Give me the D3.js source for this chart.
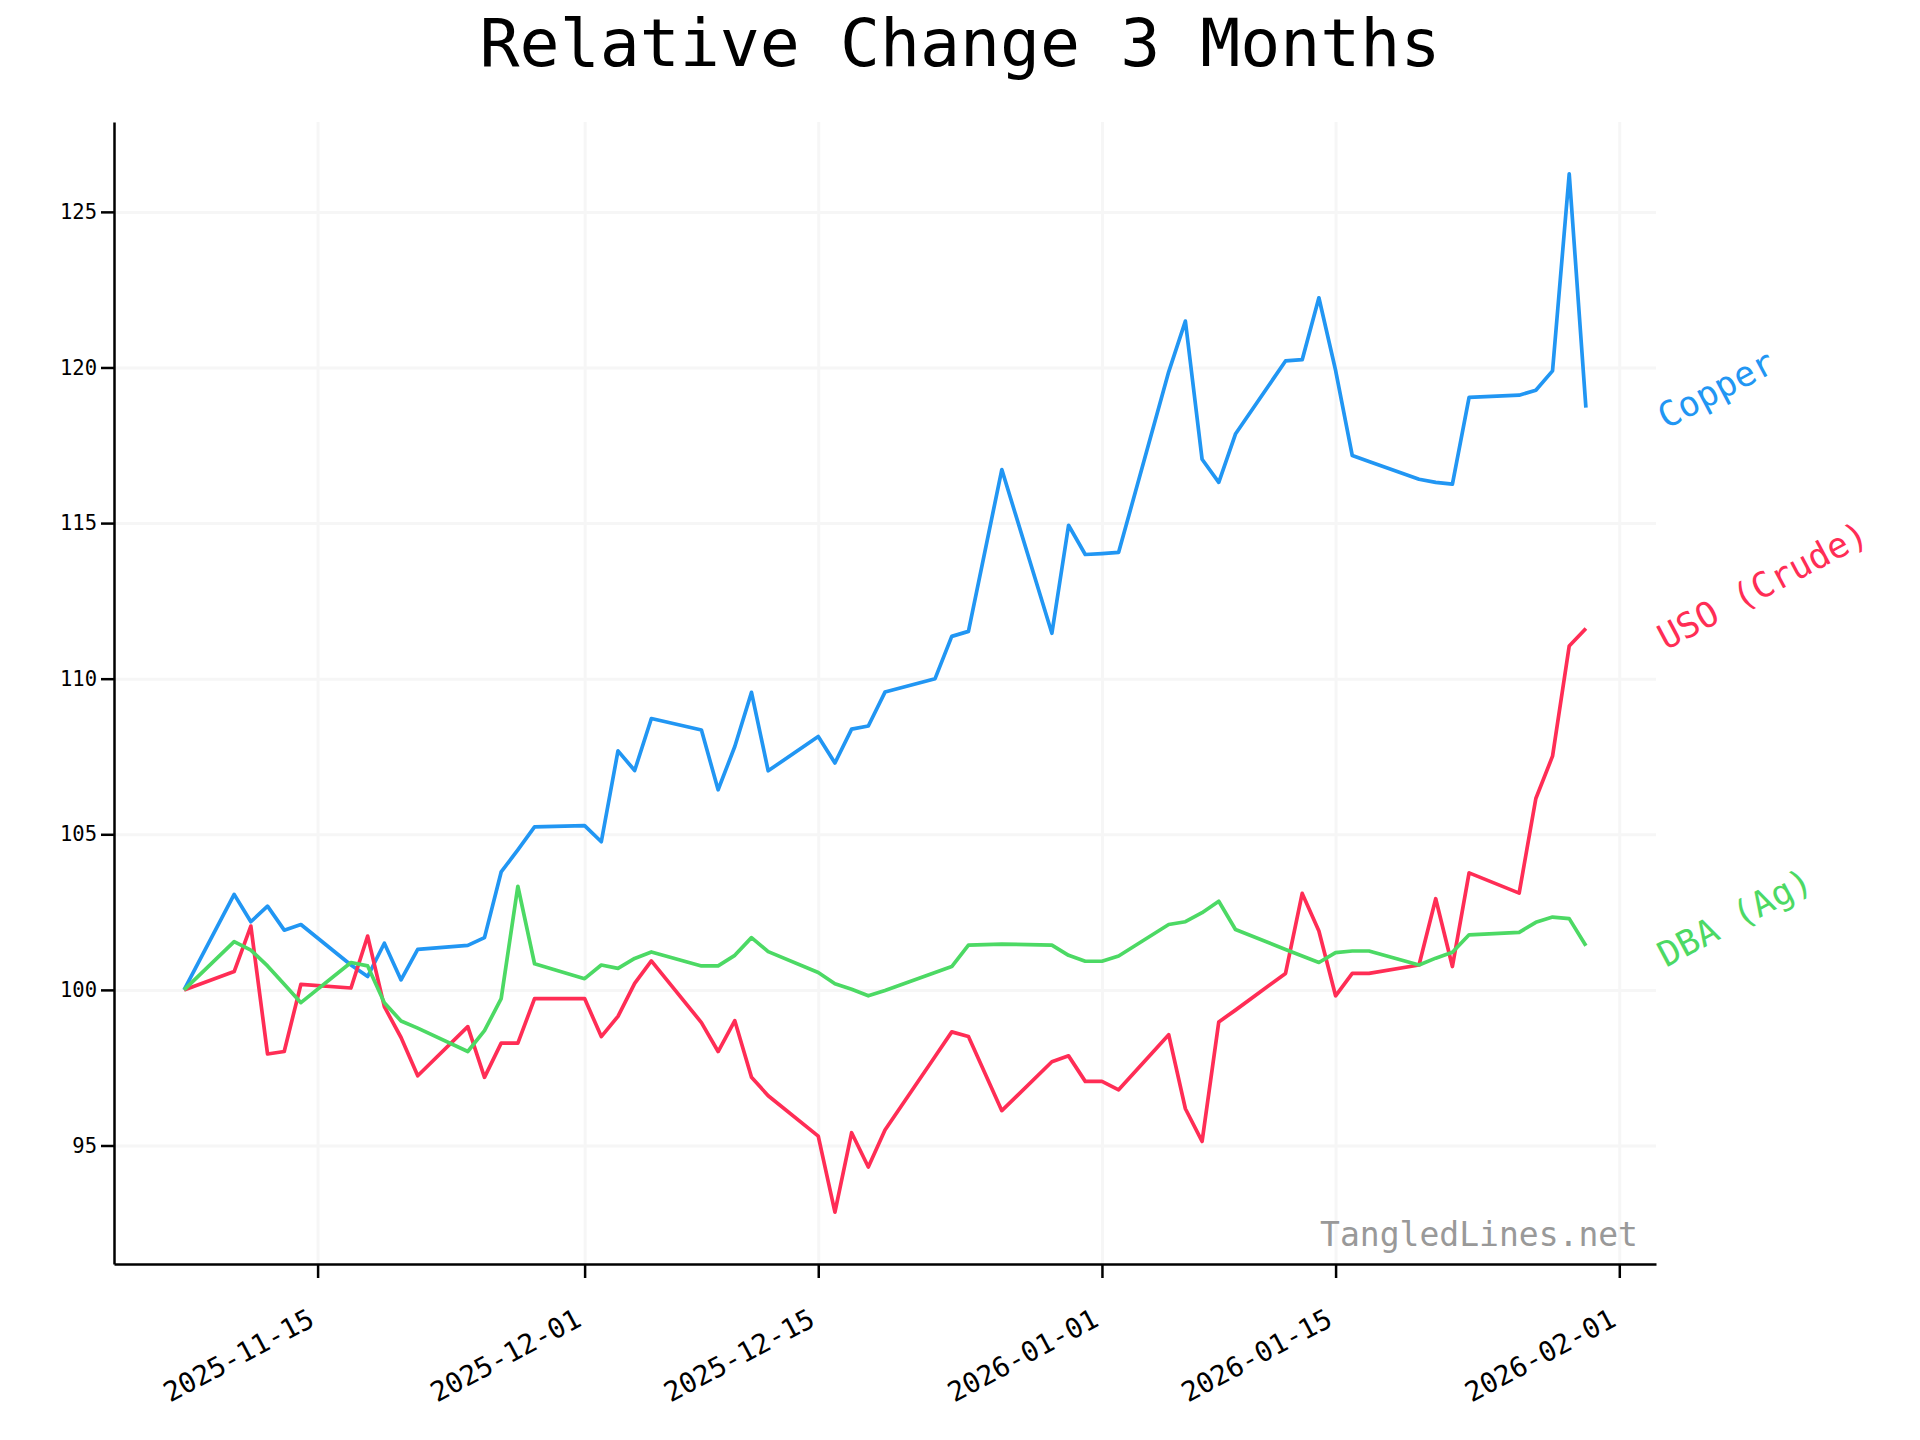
<!DOCTYPE html>
<html>
<head>
<meta charset="utf-8">
<script src="https://cdn.jsdelivr.net/npm/d3@7"></script>
<style>
  html, body { margin: 0; padding: 0; background: #ffffff; }
  svg { display: block; }
  text { font-family: "DejaVu Sans Mono", monospace; }
</style>
</head>
<body>
<svg id="chart" width="1920" height="1440"></svg>
<script>
// ---------- data ----------
const dates = [
  "2025-11-07","2025-11-10","2025-11-11","2025-11-12","2025-11-13","2025-11-14",
  "2025-11-17","2025-11-18","2025-11-19","2025-11-20","2025-11-21",
  "2025-11-24","2025-11-25","2025-11-26","2025-11-27","2025-11-28",
  "2025-12-01","2025-12-02","2025-12-03","2025-12-04","2025-12-05",
  "2025-12-08","2025-12-09","2025-12-10","2025-12-11","2025-12-12",
  "2025-12-15","2025-12-16","2025-12-17","2025-12-18","2025-12-19",
  "2025-12-22","2025-12-23","2025-12-24","2025-12-26",
  "2025-12-29","2025-12-30","2025-12-31","2026-01-01","2026-01-02",
  "2026-01-05","2026-01-06","2026-01-07","2026-01-08","2026-01-09",
  "2026-01-12","2026-01-13","2026-01-14","2026-01-15","2026-01-16","2026-01-17",
  "2026-01-20","2026-01-21","2026-01-22","2026-01-23",
  "2026-01-26","2026-01-27","2026-01-28","2026-01-29","2026-01-30"
];

const copper = [
  100.00,103.07,102.19,102.69,101.92,102.10,
  100.80,100.43,101.50,100.32,101.30,
  101.43,101.68,103.79,104.50,105.24,
  105.28,104.76,107.68,107.05,108.72,
  108.35,106.43,107.82,109.56,107.04,
  108.14,107.29,108.38,108.48,109.57,
  110.00,111.36,111.52,116.72,
  111.46,114.93,113.99,114.02,114.06,
  119.86,121.49,117.05,116.31,117.86,
  120.21,120.25,122.24,119.91,117.17,116.98,
  116.41,116.31,116.25,119.04,
  119.11,119.27,119.89,126.22,118.71
];

const uso = [
  100.00,100.59,102.05,97.94,98.02,100.18,
  100.06,101.73,99.46,98.47,97.24,
  98.82,97.19,98.29,98.29,99.72,
  99.72,98.50,99.15,100.21,100.93,
  98.95,98.02,99.01,97.19,96.60,
  95.30,92.86,95.41,94.31,95.50,
  97.86,98.65,98.50,96.12,
  97.69,97.88,97.06,97.06,96.79,
  98.56,96.18,95.13,98.97,99.35,
  100.53,103.10,101.89,99.81,100.53,100.53,
  100.80,102.93,100.75,103.76,
  103.11,106.15,107.51,111.05,111.61
];

const dba = [
  100.00,101.55,101.28,100.77,100.18,99.59,
  100.88,100.77,99.59,99.00,98.77,
  98.02,98.69,99.72,103.33,100.84,
  100.36,100.80,100.69,101.01,101.22,
  100.77,100.77,101.11,101.68,101.23,
  100.56,100.20,100.02,99.81,99.98,
  100.56,100.75,101.44,101.47,
  101.44,101.11,100.92,100.92,101.09,
  102.10,102.19,102.48,102.85,101.94,
  101.30,101.09,100.88,101.20,101.25,101.25,
  100.80,101.02,101.21,101.77,
  101.85,102.17,102.34,102.29,101.42
];

const seriesNames = ["Copper", "USO (Crude)", "DBA (Ag)"];
const seriesColors = ["#2196F3", "#FF2D55", "#4CD964"];
const yTicks = [95, 100, 105, 110, 115, 120, 125];
const xTicks = ["2025-11-15", "2025-12-01", "2025-12-15", "2026-01-01", "2026-01-15", "2026-02-01"];
const titleText = "Relative Change 3 Months";
const watermark = "TangledLines.net";

// ---------- layout ----------
const W = 1920, H = 1440;
const M = { left: 114, right: 1656, top: 122, bottom: 1264 };

const parse = d3.utcParse("%Y-%m-%d");
const fmt = d3.utcFormat("%Y-%m-%d");
const dateObjs = dates.map(parse);
const allSeries = [copper, uso, dba];

const dMin = d3.min(dateObjs), dMax = d3.max(dateObjs);
const span = dMax - dMin;
const x = d3.scaleUtc()
  .domain([new Date(+dMin - span * 0.05), new Date(+dMax + span * 0.05)])
  .range([M.left, M.right]);

const vMin = d3.min(allSeries, s => d3.min(s));
const vMax = d3.max(allSeries, s => d3.max(s));
const vSpan = vMax - vMin;
const y = d3.scaleLinear()
  .domain([vMin - vSpan * 0.05, vMax + vSpan * 0.05])
  .range([M.bottom, M.top]);

const svg = d3.select("#chart");
svg.append("rect").attr("width", W).attr("height", H).attr("fill", "#ffffff");

// grid
const gridColor = "#f6f6f6";
svg.append("g")
  .attr("transform", `translate(0,${M.bottom})`)
  .call(d3.axisBottom(x).tickValues(xTicks.map(parse)).tickSize(-(M.bottom - M.top)).tickFormat(""))
  .call(g => g.select(".domain").remove())
  .call(g => g.selectAll("line").attr("stroke", gridColor).attr("stroke-width", 3));
svg.append("g")
  .attr("transform", `translate(${M.left},0)`)
  .call(d3.axisLeft(y).tickValues(yTicks).tickSize(-(M.right - M.left)).tickFormat(""))
  .call(g => g.select(".domain").remove())
  .call(g => g.selectAll("line").attr("stroke", gridColor).attr("stroke-width", 3));

// lines
const line = d3.line()
  .x((d, i) => x(dateObjs[i]))
  .y(d => y(d));

allSeries.forEach((s, k) => {
  svg.append("path")
    .datum(s)
    .attr("fill", "none")
    .attr("stroke", seriesColors[k])
    .attr("stroke-width", 3.7)
    .attr("stroke-linejoin", "round")
    .attr("stroke-linecap", "butt")
    .attr("d", line);
});

// axes
const yAxis = svg.append("g")
  .attr("transform", `translate(${M.left},0)`)
  .call(d3.axisLeft(y).tickValues(yTicks).tickSize(13).tickPadding(4).tickSizeOuter(0));
yAxis.select(".domain").attr("stroke", "#000").attr("stroke-width", 2.5);
yAxis.selectAll(".tick line").attr("stroke", "#000").attr("stroke-width", 2.5);
yAxis.selectAll(".tick text")
  .attr("font-family", "DejaVu Sans Mono")
  .attr("font-size", 20.5)
  .attr("fill", "#000");

const xAxis = svg.append("g")
  .attr("transform", `translate(0,${M.bottom})`)
  .call(d3.axisBottom(x).tickValues(xTicks.map(parse)).tickFormat(fmt).tickSize(14).tickPadding(8).tickSizeOuter(0));
xAxis.select(".domain").attr("stroke", "#000").attr("stroke-width", 2.5);
xAxis.selectAll(".tick line").attr("stroke", "#000").attr("stroke-width", 2.5);
xAxis.selectAll(".tick text")
  .attr("font-family", "DejaVu Sans Mono")
  .attr("font-size", 27.5)
  .attr("fill", "#000")
  .attr("text-anchor", "end")
  .attr("dy", null)
  .attr("y", null)
  .attr("transform", "translate(-2,61) rotate(-28)");

// end labels
allSeries.forEach((s, k) => {
  const yv = y(s[s.length - 1]);
  svg.append("text")
    .attr("transform", `translate(${M.right + 10},${yv + 22}) rotate(-28)`)
    .attr("font-size", 35)
    .attr("fill", seriesColors[k])
    .text(seriesNames[k]);
});

// watermark
svg.append("text")
  .attr("x", M.right - 18)
  .attr("y", M.bottom - 18)
  .attr("text-anchor", "end")
  .attr("font-size", 33)
  .attr("fill", "#999999")
  .text(watermark);

// title
svg.append("text")
  .attr("x", W / 2)
  .attr("y", 66)
  .attr("text-anchor", "middle")
  .attr("font-size", 66.5)
  .attr("fill", "#000")
  .text(titleText);
</script>
</body>
</html>
